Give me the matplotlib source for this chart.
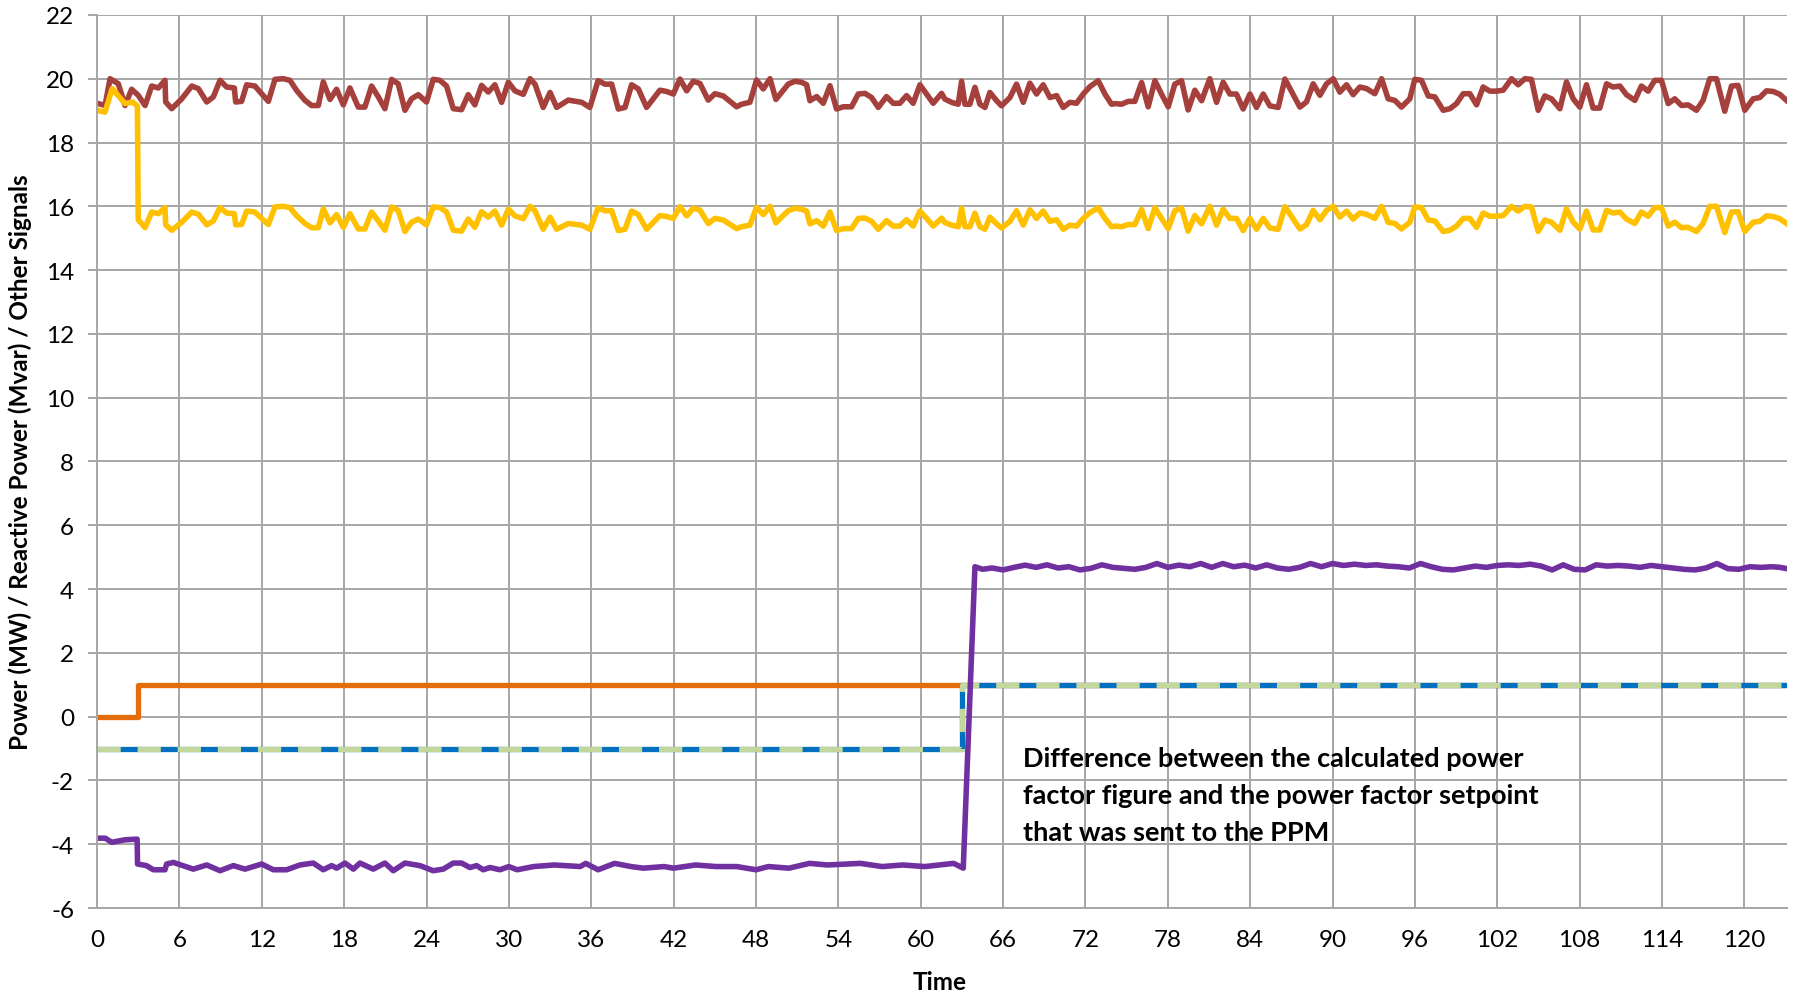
import matplotlib
matplotlib.use("Agg")
import matplotlib.pyplot as plt

plt.rcParams['font.family'] = ['Lato', 'DejaVu Sans']
plt.rcParams['axes.unicode_minus'] = False

# red signal
red_t = [0.1, 0.58, 0.95, 1.55, 2.04, 2.52, 3.0, 3.5, 3.98, 4.47, 4.95, 5.0, 5.44, 6.17, 6.9, 7.38,
         7.99, 8.47, 8.96, 9.44, 10.0, 10.1, 10.53, 10.9, 11.5, 11.99, 12.48, 12.96, 13.57, 14.05,
         14.54, 15.15, 15.63, 16.12, 16.48, 16.97, 17.45, 17.94, 18.42, 19.03, 19.51, 20.0, 20.49,
         20.97, 21.46, 21.94, 22.43, 22.91, 23.4, 24.0, 24.49, 24.98, 25.46, 25.95, 26.55, 27.04,
         27.52, 28.01, 28.5, 28.98, 29.47, 29.96, 30.44, 31.05, 31.54, 31.9, 32.5, 33.0, 33.48,
         34.33, 35.3, 35.9, 36.5, 37.0, 37.49, 37.97, 38.46, 38.94, 39.43, 40.03, 41.0, 41.49,
         41.98, 42.46, 42.95, 43.43, 43.92, 44.52, 45.01, 45.62, 46.59, 46.95, 47.56, 48.04, 48.53,
         49.02, 49.45, 49.86, 50.35, 50.84, 51.32, 51.69, 51.93, 52.42, 52.9, 53.39, 53.87, 54.36,
         54.96, 55.45, 55.94, 56.42, 56.91, 57.51, 58.0, 58.48, 58.97, 59.45, 59.94, 60.43, 60.91,
         61.52, 61.76, 62.25, 62.73, 62.98, 63.22, 63.58, 63.95, 64.31, 64.68, 65.04, 65.53, 65.89,
         66.5, 66.98, 67.47, 67.95, 68.44, 68.92, 69.41, 69.9, 70.38, 70.87, 71.35, 71.84, 72.32,
         72.93, 73.42, 73.9, 74.2, 74.63, 75.12, 75.6, 76.09, 76.57, 77.06, 77.54, 78.03, 78.51,
         79.0, 79.48, 79.97, 80.46, 81.06, 81.55, 82.03, 82.52, 83.0, 83.49, 83.98, 84.46, 84.95,
         85.43, 86.04, 86.53, 87.62, 88.1, 88.59, 89.08, 89.56, 90.05, 90.53, 91.02, 91.5, 91.99,
         92.48, 93.08, 93.57, 94.05, 94.54, 95.02, 95.63, 95.99, 96.48, 96.97, 97.45, 98.06, 98.55,
         99.03, 99.52, 100.0, 100.49, 100.97, 101.46, 101.94, 102.43, 103.04, 103.52, 104.01,
         104.49, 104.98, 105.46, 105.95, 106.56, 107.04, 107.53, 108.01, 108.5, 108.98, 109.47,
         109.96, 110.44, 110.93, 111.41, 112.02, 112.5, 112.99, 113.47, 113.96, 114.45, 114.93,
         115.42, 115.9, 116.51, 116.99, 117.48, 117.97, 118.57, 119.06, 119.54, 120.03, 120.64,
         121.12, 121.61, 122.1, 122.58, 123.07]
red_v = [19.22, 19.16, 20.0, 19.84, 19.16, 19.67, 19.48, 19.16, 19.77, 19.71, 19.95, 19.27, 19.06,
         19.37, 19.77, 19.69, 19.27, 19.43, 19.95, 19.74, 19.71, 19.27, 19.29, 19.81, 19.77, 19.53,
         19.29, 19.98, 20.0, 19.95, 19.63, 19.32, 19.16, 19.16, 19.9, 19.35, 19.67, 19.18, 19.71,
         19.11, 19.11, 19.77, 19.43, 19.06, 19.98, 19.84, 19.01, 19.37, 19.5, 19.27, 19.98, 19.95,
         19.77, 19.06, 19.03, 19.5, 19.18, 19.79, 19.58, 19.81, 19.26, 19.89, 19.62, 19.51, 20.0,
         19.83, 19.1, 19.57, 19.1, 19.33, 19.26, 19.1, 19.94, 19.83, 19.83, 19.05, 19.1, 19.81,
         19.68, 19.1, 19.64, 19.6, 19.52, 19.99, 19.62, 19.92, 19.85, 19.33, 19.53, 19.46, 19.12,
         19.2, 19.26, 19.96, 19.68, 20.0, 19.35, 19.57, 19.83, 19.92, 19.89, 19.81, 19.31, 19.44,
         19.23, 19.78, 19.05, 19.12, 19.12, 19.52, 19.54, 19.41, 19.1, 19.44, 19.23, 19.23, 19.47,
         19.23, 19.81, 19.52, 19.23, 19.54, 19.36, 19.26, 19.2, 19.92, 19.2, 19.2, 19.73, 19.2,
         19.1, 19.57, 19.31, 19.15, 19.41, 19.83, 19.26, 19.86, 19.52, 19.81, 19.41, 19.47, 19.1,
         19.26, 19.23, 19.52, 19.75, 19.94, 19.52, 19.2, 19.22, 19.2, 19.29, 19.29, 19.88, 19.12,
         19.94, 19.52, 19.12, 19.83, 19.94, 19.02, 19.64, 19.31, 20.0, 19.26, 19.89, 19.52, 19.52,
         19.05, 19.52, 19.1, 19.52, 19.15, 19.1, 19.99, 19.11, 19.27, 19.84, 19.48, 19.84, 20.0,
         19.58, 19.81, 19.5, 19.74, 19.69, 19.53, 20.0, 19.37, 19.32, 19.11, 19.37, 19.98, 19.95,
         19.46, 19.43, 19.01, 19.06, 19.22, 19.53, 19.53, 19.18, 19.74, 19.61, 19.61, 19.64, 20.0,
         19.81, 20.0, 19.98, 19.01, 19.46, 19.37, 19.06, 19.9, 19.37, 19.11, 19.81, 19.08, 19.08,
         19.84, 19.74, 19.77, 19.5, 19.32, 19.77, 19.61, 19.95, 19.95, 19.22, 19.37, 19.16, 19.18,
         19.01, 19.32, 20.0, 20.0, 18.98, 19.77, 19.79, 19.01, 19.37, 19.41, 19.62, 19.6, 19.51,
         19.32]

# yellow signal: before the step, then it tracks the red signal at 0.8 of its value
yellow_t_pre = [0.1, 0.58, 1.1, 2.04, 2.6, 2.94]
yellow_v_pre = [19.0, 18.95, 19.69, 19.22, 19.27, 19.14]
yellow_ratio = 0.8
yellow_start = 3.0

# purple signal
purple_t = [0, 0.6, 1.07, 2.04, 2.92, 2.95, 3.6, 4.1, 4.95, 5.07, 5.56, 7.01, 7.99, 8.96, 9.93,
            10.78, 11.99, 12.84, 13.81, 14.78, 15.75, 16.48, 17.09, 17.45, 18.06, 18.67, 19.15,
            20.12, 20.97, 21.58, 22.43, 23.52, 24.49, 25.22, 25.95, 26.55, 27.16, 27.65, 28.13,
            28.62, 29.35, 30.0, 30.6, 31.8, 33.3, 35.2, 35.6, 36.5, 37.7, 38.9, 39.8, 41.3, 42.0,
            43.6, 45.1, 46.6, 48.0, 48.9, 50.4, 51.9, 53.2, 55.6, 57.2, 58.7, 60.3, 62.4, 63.1,
            63.95, 64.5, 65.2, 66.0, 66.8, 67.6, 68.4, 69.2, 70.0, 70.8, 71.6, 72.4, 73.2, 74.0,
            74.8, 75.6, 76.4, 77.2, 78.0, 78.8, 79.6, 80.4, 81.2, 82.0, 82.8, 83.6, 84.4, 85.2,
            86.0, 86.8, 87.6, 88.4, 89.2, 90.0, 90.8, 91.6, 92.4, 93.2, 94.0, 94.8, 95.6, 96.4,
            97.2, 98.0, 98.8, 99.6, 100.4, 101.2, 102.0, 102.8, 103.6, 104.4, 105.2, 106.0, 106.8,
            107.6, 108.4, 109.2, 110.0, 110.8, 111.6, 112.4, 113.2, 114.0, 114.8, 115.6, 116.4,
            117.2, 118.0, 118.8, 119.6, 120.4, 121.2, 122.0, 122.6, 123.1]
purple_v = [-3.81, -3.81, -3.94, -3.86, -3.84, -4.62, -4.67, -4.8, -4.8, -4.62, -4.57, -4.78, -4.65,
            -4.83, -4.67, -4.78, -4.62, -4.8, -4.8, -4.65, -4.59, -4.8, -4.67, -4.75, -4.59, -4.78,
            -4.59, -4.78, -4.59, -4.83, -4.59, -4.67, -4.83, -4.78, -4.59, -4.59, -4.73, -4.67,
            -4.8, -4.73, -4.8, -4.7, -4.8, -4.7, -4.65, -4.7, -4.6, -4.8, -4.6, -4.7, -4.75, -4.7,
            -4.75, -4.65, -4.7, -4.7, -4.8, -4.7, -4.75, -4.6, -4.65, -4.6, -4.7, -4.65, -4.7,
            -4.6, -4.75, 4.7, 4.62, 4.66, 4.6, 4.68, 4.75, 4.68, 4.76, 4.66, 4.7, 4.6, 4.65, 4.76,
            4.68, 4.65, 4.62, 4.68, 4.8, 4.68, 4.75, 4.7, 4.8, 4.68, 4.8, 4.7, 4.75, 4.66, 4.76,
            4.66, 4.62, 4.68, 4.8, 4.7, 4.8, 4.74, 4.78, 4.74, 4.76, 4.72, 4.7, 4.66, 4.8, 4.7,
            4.62, 4.6, 4.66, 4.72, 4.68, 4.74, 4.76, 4.74, 4.78, 4.72, 4.6, 4.76, 4.62, 4.6, 4.76,
            4.72, 4.74, 4.72, 4.68, 4.74, 4.7, 4.66, 4.62, 4.6, 4.66, 4.8, 4.64, 4.62, 4.7, 4.68,
            4.7, 4.68, 4.64]

# step signals
orange_t = [0, 2.95, 123.1]
orange_v = [0, 1, 1]
setpoint_t = [0, 63.0, 123.1]
setpoint_v = [-1, 1, 1]

xticks = list(range(0, 121, 6))
yticks = list(range(-6, 23, 2))

yellow_t = yellow_t_pre + [t for t in red_t if t >= yellow_start]
yellow_v = yellow_v_pre + [round(yellow_ratio * v, 2) for t, v in zip(red_t, red_v) if t >= yellow_start]

fig = plt.figure(figsize=(17.97, 9.95), dpi=100)
ax = fig.add_axes([0.054, 0.0864, 0.9404, 0.8976])

ax.plot(red_t, red_v, color='#A5403D', lw=4.0, solid_joinstyle='round')
ax.plot(yellow_t, yellow_v, color='#FFC000', lw=4.0, solid_joinstyle='round')
ax.plot(orange_t, orange_v, color='#E46C0A', lw=3.8, drawstyle='steps-post')
ax.plot(setpoint_t, setpoint_v, color='#0070C0', lw=3.8, drawstyle='steps-post')
ax.plot(setpoint_t, setpoint_v, color='#C3D69B', lw=3.8, drawstyle='steps-post',
        dashes=(4.4, 3.2))
ax.plot(purple_t, purple_v, color='#7030A0', lw=4.0, solid_joinstyle='round')

ax.set_xlim(0, 123.1)
ax.set_ylim(-6, 22)
ax.set_xticks(xticks)
ax.set_yticks(yticks)
ax.grid(True, color='#A6A6A6', lw=1.4)
ax.set_axisbelow(True)
for s in ['top', 'right']:
    ax.spines[s].set_visible(False)
for s in ['left', 'bottom']:
    ax.spines[s].set_color('#A6A6A6')
    ax.spines[s].set_linewidth(1.4)
ax.tick_params(axis='y', length=6.5, color='#A6A6A6', width=1.4, pad=10, labelsize=17.5)
ax.tick_params(axis='x', length=0, pad=15, labelsize=17.5)

ax.text(67.45, -2.45, "Difference between the calculated power\nfactor figure and the power factor setpoint\nthat was sent to the PPM",
        fontsize=19.5, fontweight='bold', ha='left', va='center', linespacing=1.65)

fig.text(0.011, 0.535, "Power (MW) / Reactive Power (Mvar) / Other Signals", rotation=90,
         fontsize=17.5, fontweight='bold', ha='center', va='center')
fig.text(0.523, 0.013, "Time", fontsize=17.5, fontweight='bold', ha='center', va='center')

fig.savefig('out.png', dpi=100)
